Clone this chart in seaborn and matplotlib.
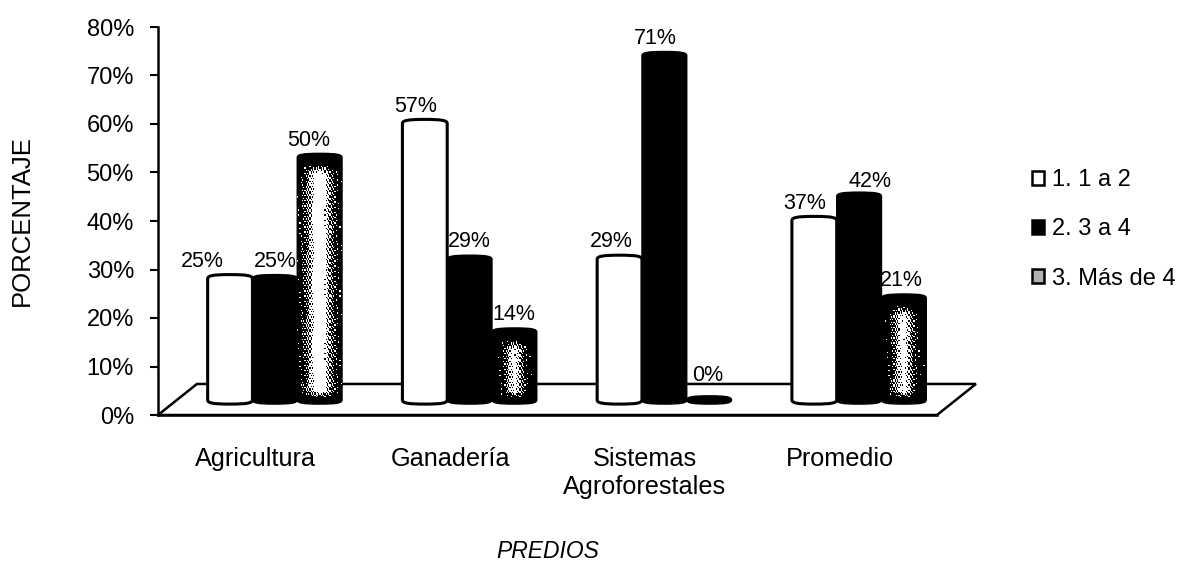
import numpy as np
import pandas as pd
import seaborn as sns
import matplotlib.pyplot as plt
from matplotlib.path import Path
from matplotlib.patches import PathPatch, Polygon

categorias = ["Agricultura", "Ganadería", "Sistemas\nAgroforestales", "Promedio"]
series = ["1. 1 a 2", "2. 3 a 4", "3. Más de 4"]
valores_1 = [25, 57, 29, 37]
valores_2 = [25, 29, 71, 42]
valores_3 = [50, 14, 0, 21]
y_ticks = [0, 10, 20, 30, 40, 50, 60, 70, 80]

sns.set_theme(style="white")
plt.rcParams["font.family"] = ["Liberation Sans", "DejaVu Sans"]

df = pd.DataFrame({
    "predio": categorias * 3,
    "serie": [s for s in series for _ in categorias],
    "valor": valores_1 + valores_2 + valores_3,
})

fig = plt.figure(figsize=(11.79, 5.62), dpi=100)
ax = fig.add_axes([158 / 1179, (562 - 415) / 562, 779 / 1179, 388 / 562])

sns.barplot(data=df, x="predio", y="valor", hue="serie", hue_order=series,
            palette=["white", "black", "black"], width=0.69, gap=0,
            saturation=1, errorbar=None, ax=ax)

# leyenda antes de esconder las barras
handles, labels = ax.get_legend_handles_labels()
leg = ax.legend(handles, labels, loc="upper left", bbox_to_anchor=(1011 / 1179, 1 - 148 / 562),
                bbox_transform=fig.transFigure, frameon=False, fontsize=17, labelcolor="black",
                handlelength=0.5, handleheight=0.5, handletextpad=0.35, labelspacing=1.15)
for h, c in zip(leg.legend_handles, ["white", "black", "#b0b0b0"]):
    h.set_facecolor(c)
    h.set_edgecolor("black")
    h.set_linewidth(1.8)

xlim = (-0.5, 3.5)
ylim = (0, 80)
dx, dy = 0.2, 6.4     # profundidad del piso 3D
shift = 0.1           # las barras van hacia el fondo
base = 3.1
cap = 0.85            # media altura de la elipse

# piso
ax.add_patch(Polygon([(xlim[0], 0), (xlim[0] + dx, dy), (xlim[1] + dx, dy), (xlim[1], 0)],
                     closed=True, facecolor="white", edgecolor="black", lw=1.8,
                     clip_on=False, zorder=1))


def cilindro(x, w, y0, h):
    k = 0.75
    r = w / 2
    cx = x + r
    y1 = y0 + h
    verts = [(x, y1), (x, y1 + k * cap), (cx - k * r, y1 + cap), (cx, y1 + cap),
             (cx + k * r, y1 + cap), (x + w, y1 + k * cap), (x + w, y1),
             (x + w, y0), (x + w, y0 - k * cap), (cx + k * r, y0 - cap), (cx, y0 - cap),
             (cx - k * r, y0 - cap), (x, y0 - k * cap), (x, y0), (x, y1)]
    codes = [Path.MOVETO] + [Path.CURVE4] * 6 + [Path.LINETO] + [Path.CURVE4] * 6 + [Path.CLOSEPOLY]
    return Path(verts, codes)


def textura(path_patch, x, w, y0, h):
    rows = int(h * 4.85 / 1.3)
    cols = 36
    if rows < 4:
        return
    u = np.linspace(-1, 1, cols)
    t = np.linspace(0, 1, rows)          # 0 abajo, 1 arriba
    sigma = 0.3 + 0.2 * min(h / 50, 1)
    brillo = np.exp(-(u / sigma) ** 2) * (0.8 + 0.4 * min(h / 50, 1))
    fade = np.clip(((1 - t) * h - 1.5) / 2, 0, 1) * np.clip((t * h - 0.3) / 1.5, 0, 1)
    img = np.outer(fade, brillo)
    # tramado fijo para imitar el grano del escaneo
    ii, jj = np.mgrid[0:rows, 0:cols]
    patron = (ii * 0.7548776662 + jj * 0.5698402910) % 1
    im = ax.imshow(img > patron, extent=(x, x + w, y0, y0 + h), origin="lower", cmap="gray",
                   vmin=0, vmax=1, aspect="auto", interpolation="nearest", zorder=3.5)
    im.set_clip_path(path_patch)


# (serie, categoria): ajuste de la etiqueta en pixeles
nudge = {(0, 0): (-28, 0), (0, 1): (-9, 0), (0, 2): (-8, 0), (0, 3): (-10, 0),
         (1, 2): (-9, 0), (1, 3): (11, -3), (2, 0): (-11, 0), (2, 1): (-1, 0),
         (2, 2): (-1, 7), (2, 3): (-3, 0)}
for i, cont in enumerate(ax.containers):
    for j, bar in enumerate(cont):
        x = bar.get_x() + shift
        w = bar.get_width()
        h = bar.get_height()
        blanco = i == 0
        pp = PathPatch(cilindro(x, w, base, h), facecolor="white" if blanco else "black",
                       edgecolor="black", lw=2.2 if blanco else 1, zorder=3 + i * 0.2)
        ax.add_patch(pp)
        bar.set_visible(False)
        if i == 2:
            textura(pp, x, w, base, h)
        nx, ny = nudge.get((i, j), (0, 0))
        ax.annotate(f"{h:.0f}%", (x + w / 2, base + h + cap), xytext=(nx * 0.72, 2 + ny * 0.72),
                    textcoords="offset points", ha="center", va="bottom", fontsize=15.5,
                    color="black", zorder=6)

ax.set_xlim(*xlim)
ax.set_ylim(*ylim)
ax.set_yticks(y_ticks)
ax.set_yticklabels([f"{t}%" for t in y_ticks])
ax.tick_params(axis="y", length=5.8, width=1.5, color="black", left=True, labelsize=17,
               labelcolor="black", pad=11.5)
ax.tick_params(axis="x", length=0, labelsize=18.2, labelcolor="black", pad=23)

sns.despine(ax=ax)
for lado in ["left", "bottom"]:
    ax.spines[lado].set_color("black")
    ax.spines[lado].set_linewidth(1.8)

ax.set_xlabel("PREDIOS", fontsize=16.5, color="black", style="italic")
ax.set_ylabel("PORCENTAJE", fontsize=18.5, color="black")
ax.xaxis.set_label_coords(0.5, -0.322)
ax.yaxis.set_label_coords(-0.159, 0.5)

fig.savefig("out.png", dpi=100)
